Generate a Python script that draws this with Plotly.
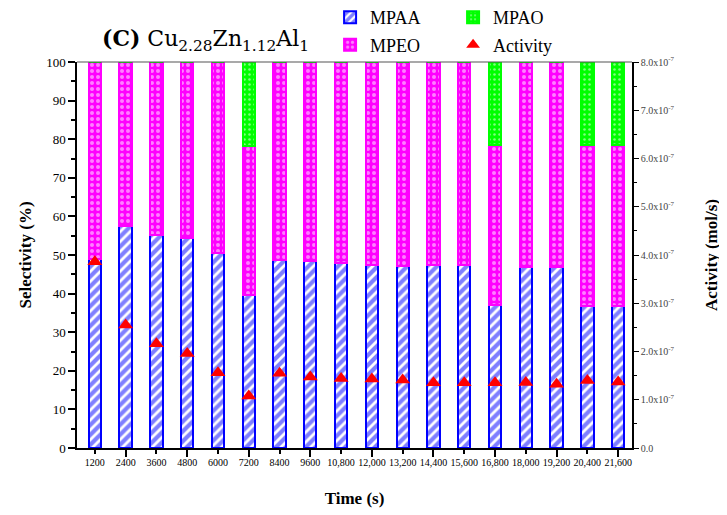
import plotly.graph_objects as go

# time points (s)
time_s = [1200, 2400, 3600, 4800, 6000, 7200, 8400, 9600, 10800, 12000,
          13200, 14400, 15600, 16800, 18000, 19200, 20400, 21600]
time_labels = ["1200", "2400", "3600", "4800", "6000", "7200", "8400", "9600",
               "10,800", "12,000", "13,200", "14,400", "15,600", "16,800",
               "18,000", "19,200", "20,400", "21,600"]

# selectivity (%)
mpaa = [48.9, 57.4, 55.3, 54.5, 50.4, 39.6, 48.8, 48.4, 47.9, 47.4,
        47.2, 47.4, 47.4, 37.0, 46.9, 46.9, 36.8, 36.7]
mpao = [0, 0, 0, 0, 0, 21.8, 0, 0, 0, 0,
        0, 0, 0, 21.4, 0, 0, 21.4, 21.4]
mpeo = [100 - a - o for a, o in zip(mpaa, mpao)]

# activity (mol/s)
activity = [3.86e-7, 2.55e-7, 2.16e-7, 1.96e-7, 1.56e-7, 1.08e-7, 1.55e-7, 1.47e-7,
            1.44e-7, 1.43e-7, 1.41e-7, 1.35e-7, 1.35e-7, 1.35e-7, 1.36e-7, 1.32e-7,
            1.40e-7, 1.37e-7]

act_ticks = [i * 1e-7 for i in range(9)]
act_labels = ["0.0"] + [f"{i}.0x10<sup>-7</sup>" for i in range(1, 9)]

FONT = "Liberation Serif"
bar_w = 480

fig = go.Figure()

fig.add_trace(go.Bar(
    x=time_s, y=mpaa, name="MPAA", width=bar_w,
    marker=dict(color="white", line=dict(color="#0000ff", width=2),
                pattern=dict(shape="/", fgcolor="#0000ff", bgcolor="white",
                             size=7, solidity=0.6)),
    legend="legend"))
fig.add_trace(go.Bar(
    x=time_s, y=mpeo, name="MPEO", width=bar_w,
    marker=dict(color="#ff00ff", line=dict(color="#ff00ff", width=2),
                pattern=dict(shape=".", fgcolor="white", bgcolor="#ff00ff",
                             size=6, solidity=0.35)),
    legend="legend2"))
fig.add_trace(go.Bar(
    x=time_s, y=mpao, name="MPAO", width=bar_w,
    marker=dict(color="#00ff00", line=dict(color="#00ff00", width=2),
                pattern=dict(shape=".", fgcolor="white", bgcolor="#00ff00",
                             size=5, solidity=0.2)),
    legend="legend"))
fig.add_trace(go.Scatter(
    x=time_s, y=activity, name="Activity", mode="markers", yaxis="y2",
    marker=dict(symbol="triangle-up", color="#ff0000", size=13),
    legend="legend2"))

# invisible trace on xaxis2 to carry the long ticks
fig.add_trace(go.Scatter(x=[time_s[0]], y=[0], xaxis="x2", mode="markers",
                         marker=dict(opacity=0), showlegend=False, hoverinfo="skip"))

xr = [504, 22140]
# page body adds an 8px offset, so the figure is 8px smaller and margins shifted
fig.update_layout(
    width=719, height=507,
    margin=dict(l=69, r=95, t=54, b=67, autoexpand=False),
    barmode="stack", bargap=0,
    paper_bgcolor="white", plot_bgcolor="white",
    font=dict(family=FONT, color="black"),
    xaxis=dict(range=xr, tickmode="array", tickvals=time_s, ticktext=time_labels,
               tickangle=0, ticks="outside", ticklen=4, tickwidth=1.5, tickcolor="black",
               tickfont=dict(size=10), showline=True, linecolor="black", linewidth=1.5,
               mirror=False, showgrid=False, zeroline=False,
               title=dict(text="<b>Time (s)</b>", font=dict(size=17), standoff=25)),
    xaxis2=dict(range=xr, overlaying="x", anchor="y", side="bottom",
                tickmode="array", tickvals=time_s[1::2], ticks="outside", ticklen=8,
                tickwidth=1.5, tickcolor="black", showticklabels=False,
                showgrid=False, zeroline=False, showline=False),
    yaxis=dict(range=[0, 100], dtick=10, ticks="outside", ticklen=7, tickwidth=1.5,
               tickcolor="black", tickfont=dict(size=13),
               minor=dict(dtick=5, ticks="outside", ticklen=4, tickcolor="black"),
               showline=True, linecolor="black", linewidth=1.5, showgrid=False,
               zeroline=False,
               title=dict(text="<b>Selectivity (%)</b>", font=dict(size=17), standoff=10)),
    yaxis2=dict(range=[0, 8e-7], overlaying="y", side="right", tickmode="array",
                tickvals=act_ticks, ticktext=act_labels, ticks="outside", ticklen=5,
                tickwidth=1.2, tickcolor="black", tickfont=dict(size=10, color="#444"),
                minor=dict(dtick=0.5e-7, ticks="outside", ticklen=3, tickcolor="black"),
                showline=True, linecolor="black", linewidth=1.5, showgrid=False,
                zeroline=False,
                title=dict(text="<b>Activity (mol/s)</b>", font=dict(size=17), standoff=32)),
    legend=dict(orientation="h", x=0.456, y=1.115, xanchor="left", yanchor="middle",
                entrywidth=78, font=dict(size=18), bgcolor="rgba(0,0,0,0)",
                traceorder="normal", itemsizing="constant"),
    legend2=dict(orientation="h", x=0.456, y=1.044, xanchor="left", yanchor="middle",
                 entrywidth=78, font=dict(size=18), bgcolor="rgba(0,0,0,0)",
                 traceorder="normal", itemsizing="constant"),
    showlegend=True,
)

# top border line
fig.add_shape(type="line", xref="paper", yref="paper", x0=0, x1=1, y0=1, y1=1,
              line=dict(color="#555", width=1.2))

fig.add_annotation(
    text="<b>(C)</b> Cu<sub>2.28</sub>Zn<sub>1.12</sub>Al<sub>1</sub>",
    xref="paper", yref="paper", x=0.041, y=1.057, xanchor="left", yanchor="middle",
    showarrow=False, font=dict(size=22, family="DejaVu Serif"))

fig.write_html("out.html")
